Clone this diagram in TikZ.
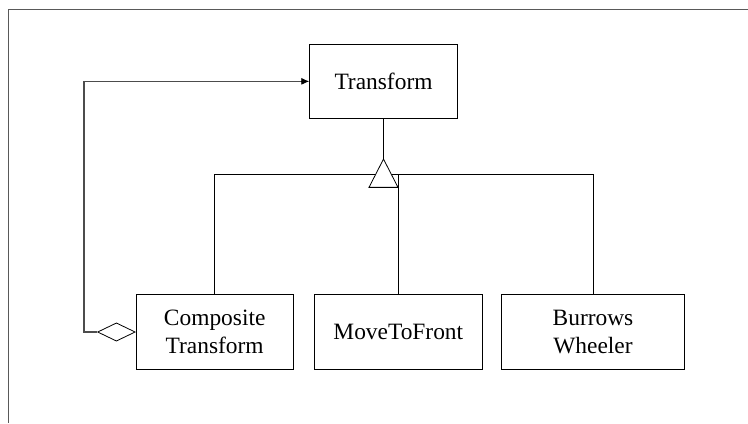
\documentclass[tikz,border=0pt]{standalone}
\usepackage{fontspec}
\setmainfont{Liberation Serif}
\usetikzlibrary{shapes.geometric,arrows.meta}
\begin{document}
\begin{tikzpicture}[x=1bp,y=-1bp,
  classbox/.style={draw, line width=0.8bp, align=center, inner sep=0pt,
    minimum height=74.6bp, font=\fontsize{23.5}{27.5}\selectfont},
  link/.style={draw, line width=0.8bp},
  frameline/.style={draw=black!65, line width=1.5bp},
  aggr/.style={draw, diamond, line width=0.8bp, inner sep=0pt,
    minimum width=37.7bp, minimum height=18.3bp, fill=white}]
  \useasboundingbox (0,0) rectangle (748,423);

  % page frame
  \coordinate (frameTR) at (748,9.5);
  \coordinate (frameTL) at (8.5,9.5);
  \coordinate (frameBL) at (8.5,423);
  \draw[frameline] (frameTR) -- (frameTL) -- (frameBL);

  % classes
  \node[classbox, minimum width=147.7bp] (t) at (383.5,81.35) {Transform};
  \node[classbox, minimum width=157.3bp] (c) at (214.7,332) {Composite\\Transform};
  \node[classbox, minimum width=168bp]   (m) at (398.3,332) {MoveToFront};
  \node[classbox, minimum width=182.6bp] (b) at (593,332) {Burrows\\Wheeler};

  % generalization
  \coordinate (bar) at (0,174.3);
  \draw[link] (t.south) -- ++(0,40) coordinate (apex);
  \draw[link] (c.north) -- (c.north |- bar) -- (b.north |- bar) -- (b.north);
  \draw[link] (m.north) -- (m.north |- bar);
  \draw[link, fill=white] (apex) -- ++(-14.5,28.3) -- ++(29,0) -- cycle;

  % aggregation back to the base class
  \node[aggr, anchor=east] (d) at (c.west) {};
  \coordinate (loop) at (84,0);
  \draw[draw=black!70, line width=1.2bp] (d.west) -- (d.west -| loop) |- ([xshift=-7bp]t.west);
  \draw[line width=0.8bp, -{Latex[length=8bp,width=7bp]}] ([xshift=-8bp]t.west) -- (t.west);
\end{tikzpicture}
\end{document}
